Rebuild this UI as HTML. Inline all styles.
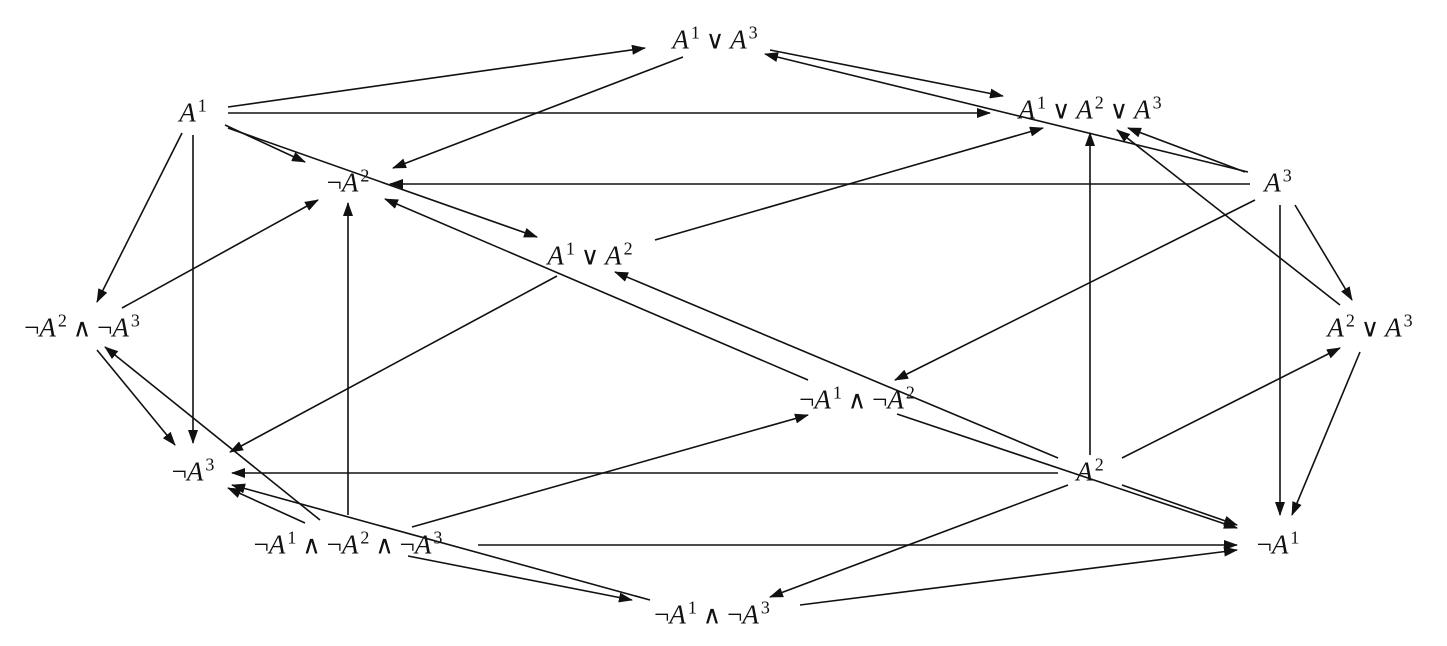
<!DOCTYPE html>
<html><head><meta charset="utf-8">
<style>
html,body{margin:0;padding:0;background:#fff;}
#w{position:relative;width:1447px;height:646px;overflow:hidden;background:#fff;}
svg{position:absolute;left:0;top:0;}
.n{position:absolute;transform:translate(-50%,-50%);font-family:"Liberation Serif",serif;font-size:27px;white-space:nowrap;color:#111;line-height:1;}
.n i{font-style:italic;font-family:"Liberation Serif",serif;}
.n sup{font-family:"Liberation Serif",serif;font-size:18px;font-style:normal;vertical-align:0;position:relative;top:-10px;margin-left:2px;}
.n b{font-weight:normal;font-family:"DejaVu Serif",serif;font-size:25px;margin:0 6px;}
</style></head><body>
<div id="w">
<svg width="1447" height="646" viewBox="0 0 1447 646">
<defs><marker id="a" markerWidth="14" markerHeight="10" refX="13" refY="5" orient="auto" markerUnits="userSpaceOnUse"><path d="M0,0 L14,5 L0,10 z" fill="#111"/></marker></defs>
<g stroke="#111" stroke-width="1.6" fill="none" marker-end="url(#a)">
<line x1="228" y1="107" x2="645" y2="48"/>
<line x1="228" y1="113" x2="990" y2="113"/>
<line x1="225" y1="125" x2="305" y2="162"/>
<line x1="228" y1="128" x2="537" y2="237"/>
<line x1="182" y1="133" x2="97" y2="302"/>
<line x1="193" y1="135" x2="193" y2="443"/>
<line x1="683" y1="57" x2="393" y2="168"/>
<line x1="770" y1="50" x2="1003" y2="96"/>
<line x1="1248" y1="172" x2="765" y2="54"/>
<line x1="1245" y1="172" x2="1128" y2="128"/>
<line x1="1250" y1="184" x2="390" y2="184"/>
<line x1="1255" y1="200" x2="895" y2="380"/>
<line x1="1280" y1="205" x2="1280" y2="515"/>
<line x1="1295" y1="205" x2="1352" y2="300"/>
<line x1="1340" y1="305" x2="1117" y2="130"/>
<line x1="1360" y1="352" x2="1292" y2="515"/>
<line x1="655" y1="240" x2="1043" y2="128"/>
<line x1="557" y1="276" x2="230" y2="452"/>
<line x1="122" y1="308" x2="318" y2="200"/>
<line x1="97" y1="350" x2="175" y2="445"/>
<line x1="320" y1="520" x2="105" y2="347"/>
<line x1="348" y1="515" x2="348" y2="203"/>
<line x1="305" y1="523" x2="228" y2="488"/>
<line x1="412" y1="527" x2="808" y2="415"/>
<line x1="478" y1="545" x2="1237" y2="545"/>
<line x1="408" y1="556" x2="632" y2="600"/>
<line x1="808" y1="380" x2="385" y2="199"/>
<line x1="897" y1="414" x2="1237" y2="528"/>
<line x1="1058" y1="458" x2="615" y2="272"/>
<line x1="1122" y1="485" x2="1237" y2="525"/>
<line x1="1090" y1="455" x2="1090" y2="133"/>
<line x1="1058" y1="473" x2="232" y2="473"/>
<line x1="1122" y1="458" x2="1340" y2="348"/>
<line x1="1068" y1="485" x2="770" y2="597"/>
<line x1="800" y1="605" x2="1237" y2="550"/>
<line x1="650" y1="600" x2="232" y2="485"/>
</g>
</svg>
<div class="n" style="left:715px;top:40px"><i>A</i><sup>1</sup><b>∨</b><i>A</i><sup>3</sup></div>
<div class="n" style="left:193px;top:113px"><i>A</i><sup>1</sup></div>
<div class="n" style="left:1090px;top:110px"><i>A</i><sup>1</sup><b>∨</b><i>A</i><sup>2</sup><b>∨</b><i>A</i><sup>3</sup></div>
<div class="n" style="left:348px;top:183px">¬<i>A</i><sup>2</sup></div>
<div class="n" style="left:1278px;top:183px"><i>A</i><sup>3</sup></div>
<div class="n" style="left:590px;top:256px"><i>A</i><sup>1</sup><b>∨</b><i>A</i><sup>2</sup></div>
<div class="n" style="left:82px;top:328px">¬<i>A</i><sup>2</sup><b>∧</b>¬<i>A</i><sup>3</sup></div>
<div class="n" style="left:1370px;top:328px"><i>A</i><sup>2</sup><b>∨</b><i>A</i><sup>3</sup></div>
<div class="n" style="left:857px;top:400px">¬<i>A</i><sup>1</sup><b>∧</b>¬<i>A</i><sup>2</sup></div>
<div class="n" style="left:193px;top:472px">¬<i>A</i><sup>3</sup></div>
<div class="n" style="left:1090px;top:472px"><i>A</i><sup>2</sup></div>
<div class="n" style="left:348px;top:545px">¬<i>A</i><sup>1</sup><b>∧</b>¬<i>A</i><sup>2</sup><b>∧</b>¬<i>A</i><sup>3</sup></div>
<div class="n" style="left:1278px;top:545px">¬<i>A</i><sup>1</sup></div>
<div class="n" style="left:712px;top:615px">¬<i>A</i><sup>1</sup><b>∧</b>¬<i>A</i><sup>3</sup></div>
</div>
</body></html>
